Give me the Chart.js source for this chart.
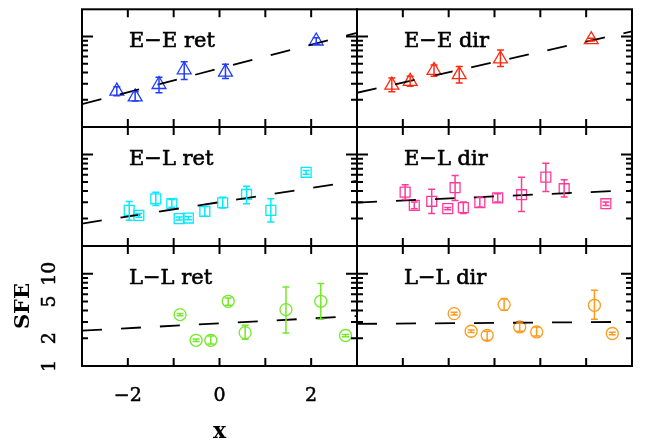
<!DOCTYPE html>
<html>
<head>
<meta charset="utf-8">
<script src="https://cdn.jsdelivr.net/npm/chart.js@4.4.1/dist/chart.umd.min.js"></script>
<style>
  body { margin: 0; background: #fff; }
  #figure { position: relative; width: 654px; height: 443px; }
  #figure canvas { position: absolute; left: 0; top: 0; }
</style>
</head>
<body>
<div id="figure"></div>
<script>
// E-E pairs (same x for ret and dir)
const eeX = [-2.24, -1.84, -1.32, -0.77, 0.13, 2.11];
const eeRetSfe = [2.49, 2.15, 2.95, 4.29, 4.04, 8.93];
const eeRetLo = [2.22, 1.94, 2.39, 3.34, 3.43, 8.2];
const eeRetHi = [2.79, 2.45, 3.54, 5.28, 4.94, 9.7];
const eeDirSfe = [2.90, 3.20, 4.22, 3.79, 5.65, 9.23];
const eeDirLo = [2.45, 2.83, 3.63, 3.07, 4.66, 8.9];
const eeDirHi = [3.48, 3.63, 4.86, 4.66, 7.08, 9.6];

// E-L pairs
const elRetX = [-1.97, -1.76, -1.39, -1.04, -0.88, -0.68, -0.32, 0.07, 0.59, 1.12, 1.89];
const elRetSfe = [2.45, 2.16, 3.28, 2.90, 1.99, 2.02, 2.39, 2.97, 3.66, 2.45, 6.39];
const elRetLo = [1.91, 2.06, 2.78, 2.66, 1.92, 1.94, 2.12, 2.60, 2.90, 1.83, 6.1];
const elRetHi = [3.07, 2.27, 3.87, 3.23, 2.07, 2.10, 2.71, 3.42, 4.50, 3.28, 6.7];
const elDirX = [-1.95, -1.75, -1.37, -1.02, -0.86, -0.68, -0.32, 0.07, 0.59, 1.12, 1.52, 2.43];
const elDirSfe = [3.88, 2.78, 3.08, 2.56, 4.34, 2.63, 2.98, 3.36, 3.64, 5.66, 4.23, 2.90];
const elDirLo = [3.23, 2.56, 2.26, 2.49, 3.15, 2.26, 2.67, 3.02, 2.39, 3.95, 3.43, 2.78];
const elDirHi = [4.68, 3.02, 4.16, 2.63, 5.90, 3.02, 3.43, 3.73, 5.66, 8.04, 5.30, 3.03];

// L-L pairs
const llRetX = [-0.86, -0.51, -0.19, 0.19, 0.56, 1.45, 2.21, 2.75];
const llRetSfe = [3.61, 1.90, 1.90, 5.03, 2.30, 4.09, 5.03, 2.14];
const llRetLo = [3.50, 1.84, 1.73, 4.55, 1.95, 2.28, 3.21, 2.08];
const llRetHi = [3.72, 1.96, 2.12, 5.46, 2.76, 7.19, 7.83, 2.20];
const llDirX = [-0.88, -0.51, -0.16, 0.21, 0.55, 0.92, 2.18, 2.57];
const llDirSfe = [3.70, 2.38, 2.15, 4.63, 2.65, 2.34, 4.55, 2.25];
const llDirLo = [3.58, 2.31, 1.90, 4.02, 2.38, 2.12, 3.21, 2.18];
const llDirHi = [3.82, 2.45, 2.38, 5.38, 2.93, 2.65, 6.62, 2.32];

// fitted relations: SFE at x = -3 and x = 3
const fitX = [-3, 3];
const eeRetFit = [1.79, 11.0];
const eeDirFit = [2.39, 11.4];
const elRetFit = [1.76, 5.16];
const elDirFit = [2.98, 4.07];
const llRetFit = [2.42, 3.48];
const llDirFit = [2.86, 3.01];

// axes
const xRange = [-3, 3];
const sfeRange = [1, 20];
const xTickLabels = [-2, 0, 2];
const sfeTickLabels = [1, 2, 5, 10];
const xTickMarks = [-2, -1, 0, 1, 2];
const sfeTickMarks = [2, 3, 4, 5, 6, 7, 8, 9, 10];
const sfeMajorMarks = [10];

const W = 654, H = 443;
const rowEdges = [7, 127, 246, 366];
const colEdges = [82, 357, 632];
const serif = '"DejaVu Serif", "Liberation Serif", serif';

const panels = [
  { label: 'E\u2212E ret', row: 0, col: 0, x: eeX, sfe: eeRetSfe, lo: eeRetLo, hi: eeRetHi, fit: eeRetFit, color: '#1f3cff', marker: 'triangle', radius: 8 },
  { label: 'E\u2212E dir', row: 0, col: 1, x: eeX, sfe: eeDirSfe, lo: eeDirLo, hi: eeDirHi, fit: eeDirFit, color: '#ff2a12', marker: 'triangle', radius: 8 },
  { label: 'E\u2212L ret', row: 1, col: 0, x: elRetX, sfe: elRetSfe, lo: elRetLo, hi: elRetHi, fit: elRetFit, color: '#00eaff', marker: 'rect', radius: 7 },
  { label: 'E\u2212L dir', row: 1, col: 1, x: elDirX, sfe: elDirSfe, lo: elDirLo, hi: elDirHi, fit: elDirFit, color: '#ff3a9a', marker: 'rect', radius: 7 },
  { label: 'L\u2212L ret', row: 2, col: 0, x: llRetX, sfe: llRetSfe, lo: llRetLo, hi: llRetHi, fit: llRetFit, color: '#74e82a', marker: 'circle', radius: 6 },
  { label: 'L\u2212L dir', row: 2, col: 1, x: llDirX, sfe: llDirSfe, lo: llDirLo, hi: llDirHi, fit: llDirFit, color: '#ff9a1c', marker: 'circle', radius: 6 }
];

const minus = v => (v < 0 ? '\u2212' + Math.abs(v) : String(v));

// error bars, frame with inward ticks, and the panel name
const panelPlugin = {
  id: 'panel',
  afterDatasetsDraw(chart, args, opts) {
    const { ctx, chartArea: a, scales: { x, y } } = chart;
    const p = opts.def;
    ctx.save();

    ctx.strokeStyle = p.color;
    ctx.lineWidth = 1.5;
    ctx.beginPath();
    p.x.forEach((xv, i) => {
      const px = x.getPixelForValue(xv);
      const y0 = y.getPixelForValue(p.lo[i]);
      const y1 = y.getPixelForValue(p.hi[i]);
      ctx.moveTo(px, y0); ctx.lineTo(px, y1);
      ctx.moveTo(px - 3.5, y0); ctx.lineTo(px + 3.5, y0);
      ctx.moveTo(px - 3.5, y1); ctx.lineTo(px + 3.5, y1);
    });
    ctx.stroke();

    ctx.strokeStyle = '#000';
    ctx.lineWidth = 2;
    ctx.strokeRect(a.left, a.top, a.right - a.left, a.bottom - a.top);
    ctx.beginPath();
    xTickMarks.forEach(v => {
      const px = x.getPixelForValue(v);
      ctx.moveTo(px, a.bottom); ctx.lineTo(px, a.bottom - 8);
      ctx.moveTo(px, a.top); ctx.lineTo(px, a.top + 8);
    });
    sfeTickMarks.forEach(v => {
      const py = y.getPixelForValue(v);
      const len = sfeMajorMarks.includes(v) ? 11 : 6;
      ctx.moveTo(a.left, py); ctx.lineTo(a.left + len, py);
      ctx.moveTo(a.right, py); ctx.lineTo(a.right - len, py);
    });
    ctx.stroke();

    ctx.fillStyle = '#000';
    ctx.strokeStyle = '#000';
    ctx.lineWidth = 0.6;
    ctx.font = '21px ' + serif;
    ctx.textAlign = 'left';
    ctx.textBaseline = 'alphabetic';
    ctx.fillText(p.label, a.left + 47, a.top + 38);
    ctx.strokeText(p.label, a.left + 47, a.top + 38);
    ctx.restore();
  }
};

function makePanel(p) {
  const canvas = document.createElement('canvas');
  canvas.width = W;
  canvas.height = H;
  document.getElementById('figure').appendChild(canvas);

  // only the bottom-left panel carries tick labels and axis titles
  const labelled = p.row === 2 && p.col === 0;
  const padding = {
    left: labelled ? 0 : colEdges[p.col],
    right: W - colEdges[p.col + 1],
    top: rowEdges[p.row],
    bottom: labelled ? 0 : H - rowEdges[p.row + 1]
  };

  new Chart(canvas, {
    type: 'scatter',
    data: {
      datasets: [
        {
          data: fitX.map((x, i) => ({ x, y: p.fit[i] })),
          showLine: true,
          borderColor: '#000',
          borderWidth: 1.8,
          borderDash: [20, 19],
          pointRadius: 0
        },
        {
          data: p.x.map((x, i) => ({ x, y: p.sfe[i] })),
          pointStyle: p.marker,
          pointRadius: p.radius,
          borderColor: p.color,
          backgroundColor: 'rgba(0,0,0,0)',
          pointBorderWidth: 1.3
        }
      ]
    },
    options: {
      responsive: false,
      animation: false,
      events: [],
      layout: { padding },
      plugins: {
        legend: { display: false },
        tooltip: { enabled: false },
        panel: { def: p }
      },
      scales: {
        x: {
          type: 'linear',
          min: xRange[0],
          max: xRange[1],
          display: labelled,
          grid: { display: false },
          border: { display: false },
          afterBuildTicks: s => { s.ticks = xTickLabels.map(v => ({ value: v })); },
          afterFit: s => { if (labelled) s.height = H - rowEdges[3]; },
          ticks: {
            color: '#000',
            padding: 11,
            autoSkip: false,
            maxRotation: 0,
            textStrokeColor: '#000',
            textStrokeWidth: 0.5,
            font: { family: serif, size: 19 },
            callback: v => minus(v)
          },
          title: {
            display: true,
            text: 'x',
            color: '#000',
            font: { family: serif, size: 22, weight: 'bold', lineHeight: 1 },
            padding: { top: 0, bottom: 0 }
          }
        },
        y: {
          type: 'logarithmic',
          min: sfeRange[0],
          max: sfeRange[1],
          display: labelled,
          grid: { display: false },
          border: { display: false },
          afterBuildTicks: s => { s.ticks = sfeTickLabels.map(v => ({ value: v })); },
          afterFit: s => { if (labelled) s.width = colEdges[0]; },
          ticks: {
            color: '#000',
            padding: 12,
            autoSkip: false,
            minRotation: 90,
            maxRotation: 90,
            crossAlign: 'center',
            textStrokeColor: '#000',
            textStrokeWidth: 0.5,
            font: { family: serif, size: 19 },
            callback: v => String(v)
          },
          title: {
            display: true,
            text: 'SFE',
            color: '#000',
            font: { family: serif, size: 21, weight: 'bold', lineHeight: 1 },
            padding: { top: 13, bottom: 0 }
          }
        }
      }
    },
    plugins: [panelPlugin]
  });
}

panels.forEach(makePanel);
</script>
</body>
</html>
